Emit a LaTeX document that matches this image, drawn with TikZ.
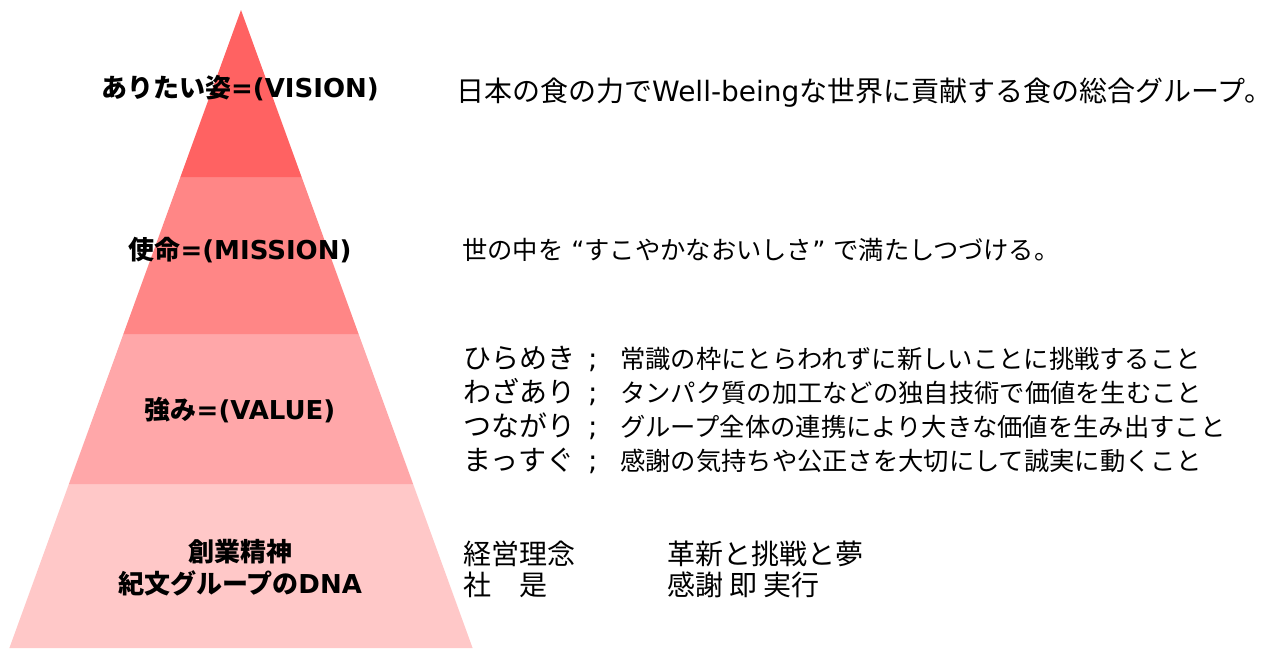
\documentclass[tikz,border=0pt]{standalone}
\usepackage{fontspec}
\setmainfont{Noto Sans CJK JP}
\newfontfamily\lat{DejaVu Sans}
\usepackage{tikz}
\definecolor{tierone}{RGB}{255,98,98}
\definecolor{tiertwo}{RGB}{255,134,134}
\definecolor{tierthree}{RGB}{255,167,169}
\definecolor{tierfour}{RGB}{255,200,200}

\begin{document}
\begin{tikzpicture}[x=1pt, y=-1pt,
	head/.style={font=\fontsize{26}{32}\selectfont\bfseries, align=center, inner sep=0pt},
	body/.style={font=\fontsize{28}{34}\selectfont, anchor=base west, inner sep=0pt},
	desc/.style={font=\fontsize{25.3}{30}\selectfont, anchor=base west, inner sep=0pt}]
			\useasboundingbox (0,0) rectangle (1271,648);
			% pyramid, bottom tier first
			\fill[tierfour] (9.4,648) -- (472.6,648) -- (413.1,484) -- (68.9,484) -- cycle;
			\fill[tierthree] (68.9,484) -- (413.1,484) -- (358.6,334) -- (123.4,334) -- cycle;
			\fill[tiertwo] (123.4,334) -- (358.6,334) -- (301.6,177) -- (180.4,177) -- cycle;
			\fill[tierone] (180.4,177) -- (301.6,177) -- (241,10) -- cycle;
			% tier labels
			\node[head, anchor=base] (vision) at (240,97) {ありたい姿{\lat =(VISION)}};
			\node[head, anchor=base] (mission) at (240,259) {使命{\lat =(MISSION)}};
			\node[head, anchor=base] (value) at (240,419) {強み{\lat =(VALUE)}};
			\node[head] (dna) at (240,568) {創業精神\\紀文グループの{\lat DNA}};
			% texts on the right
			\node[body] (visiontext) at (456,101) {日本の食の力で{\lat Well-being}な世界に貢献する食の総合グループ。};
			\node[body, font=\fontsize{25.3}{32}\selectfont] (missiontext) at (462,259) {世の中を{\lat\ “}すこやかなおいしさ{\lat ” }で満たしつづける。};
			\node[body] (hirameki) at (463,368) {ひらめき};
			\node[body] (wazaari) at (463,402) {わざあり};
			\node[body] (tsunagari) at (463,436) {つながり};
			\node[body] (massugu) at (463,470) {まっすぐ};
			\node[body] (semione) at (588,368) {\lat ;};
			\node[body] (semitwo) at (588,402) {\lat ;};
			\node[body] (semithree) at (588,436) {\lat ;};
			\node[body] (semifour) at (588,470) {\lat ;};
			\node[desc] (hiramekidesc) at (620,368) {常識の枠にとらわれずに新しいことに挑戦すること};
			\node[desc] (wazaaridesc) at (620,402) {タンパク質の加工などの独自技術で価値を生むこと};
			\node[desc] (tsunagaridesc) at (620,436) {グループ全体の連携により大きな価値を生み出すこと};
			\node[desc] (massugudesc) at (620,470) {感謝の気持ちや公正さを大切にして誠実に動くこと};
			\node[body] (rinen) at (463,564) {経営理念};
			\node[body] (shaze) at (463,595) {社　是};
			\node[body] (rinentext) at (667,564) {革新と挑戦と夢};
			\node[body] (shazetext) at (667,595) {感謝 即 実行};
\end{tikzpicture}
\end{document}
